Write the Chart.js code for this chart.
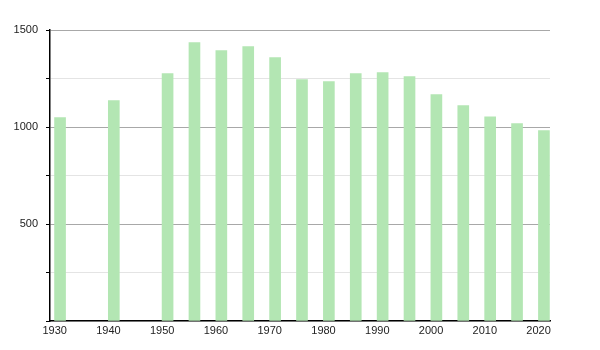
<!DOCTYPE html>
<html>
<head>
<meta charset="utf-8">
<script src="https://cdn.jsdelivr.net/npm/chart.js@4"></script>
<style>
html,body{margin:0;padding:0;background:#fff;}
#wrap{width:600px;height:350px;position:relative;}
</style>
</head>
<body>
<div id="wrap"><canvas id="c" width="600" height="350"></canvas></div>
<script>
const years = [1931,1941,1951,1956,1961,1966,1971,1976,1981,1986,1991,1996,2001,2006,2011,2016,2021];
const population = [1048,1136,1275,1435,1394,1415,1358,1244,1234,1275,1281,1260,1167,1110,1053,1017,981];
const xTicks = [1930,1940,1950,1960,1970,1980,1990,2000,2010,2020];
const yTicks = [0,250,500,750,1000,1250,1500];
const yLabelled = [500,1000,1500];

const points = years.map((y,i)=>({x:y, y:population[i]}));

new Chart(document.getElementById('c'), {
  type: 'bar',
  data: {
    datasets: [{
      data: points,
      backgroundColor: '#b3e6b3',
      borderWidth: 0,
      barThickness: 11
    }]
  },
  options: {
    responsive: false,
    animation: false,
    events: [],
    layout: { padding: { top: 30, right: 50, left: 0, bottom: 0 } },
    plugins: { legend: { display: false }, tooltip: { enabled: false } },
    scales: {
      x: {
        type: 'linear',
        min: 1929.13,
        max: 2022.13,
        offset: false,
        afterBuildTicks: s => { s.ticks = xTicks.map(v => ({value: v})); },
        afterFit: s => { s.height = 29; },
        grid: { display: false, drawTicks: false, offset: false },
        border: { display: true, color: '#000', width: 1.5 },
        ticks: {
          padding: 3,
          maxRotation: 0,
          autoSkip: false,
          color: '#222',
          font: { family: 'Liberation Sans, Arial, sans-serif', size: 11 },
          callback: v => String(v)
        }
      },
      y: {
        min: 0,
        max: 1500,
        afterBuildTicks: s => { s.ticks = yTicks.map(v => ({value: v})); },
        afterFit: s => { s.width = 50; },
        border: { display: true, color: '#000', width: 1.5 },
        grid: {
          color: c => yLabelled.includes(c.tick.value) ? '#a8a8a8' : '#e4e4e4',
          tickColor: '#000',
          tickLength: 4,
          lineWidth: 1
        },
        ticks: {
          padding: 8,
          autoSkip: false,
          color: '#222',
          font: { family: 'Liberation Sans, Arial, sans-serif', size: 11 },
          callback: v => yLabelled.includes(v) ? String(v) : ''
        }
      }
    }
  }
});
</script>
</body>
</html>
